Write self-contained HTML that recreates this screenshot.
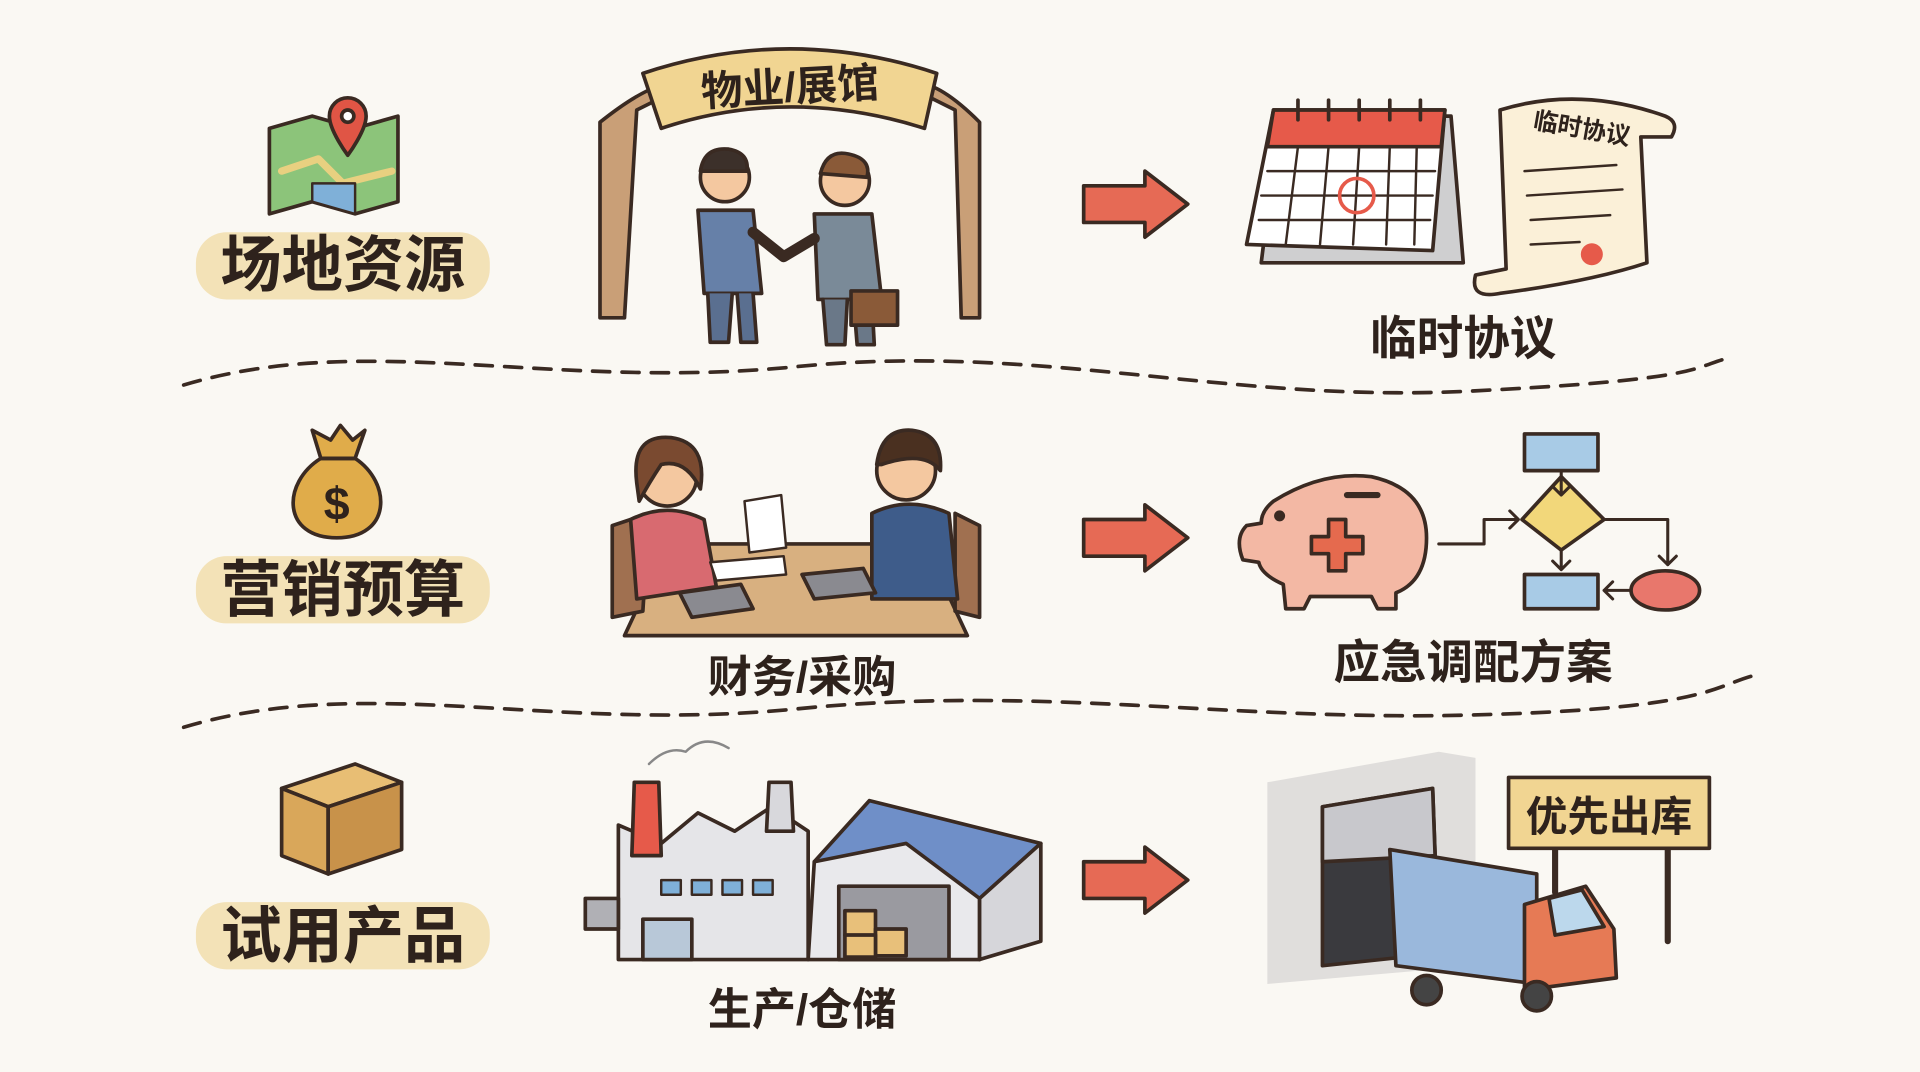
<!DOCTYPE html>
<html><head><meta charset="utf-8"><style>
html,body{margin:0;padding:0;background:#faf8f3;}
svg{display:block}
text{font-family:"Liberation Sans","Noto Sans CJK SC",sans-serif;font-weight:bold;fill:#2e221c}
</style></head><body>
<svg width="1920" height="1072" viewBox="0 0 1568 877" preserveAspectRatio="none" xmlns="http://www.w3.org/2000/svg">
<rect width="1568" height="877" fill="#faf8f3"/>
<g stroke="#3a2a22" stroke-width="3" stroke-linejoin="round" stroke-linecap="round">
<!-- dashed lines -->
<path d="M150 315 C300 270 450 320 650 300 S1000 330 1200 320 S1380 300 1415 292" fill="none" stroke-dasharray="14 10"/>
<path d="M150 595 C300 550 450 600 650 580 S1000 590 1200 585 S1400 560 1435 552" fill="none" stroke-dasharray="14 10"/>

<!-- map -->
<path d="M220 105 L255 95 L290 105 L325 95 L325 165 L290 175 L255 165 L220 175 Z" fill="#8cc47a"/>
<path d="M230 140 L260 130 L280 150 L320 140" fill="none" stroke="#e8d080" stroke-width="6"/>
<path d="M255 150 L255 165 L290 175 L290 150 Z" fill="#7fb0d8" stroke-width="2"/>
<path d="M284 80 a15 15 0 0 1 15 15 c0 12 -15 32 -15 32 s-15 -20 -15 -32 a15 15 0 0 1 15 -15z" fill="#e05545"/>
<circle cx="284" cy="95" r="5" fill="#fff"/>

<!-- money bag -->
<path d="M262 375 C230 395 230 440 275 440 C320 440 320 395 290 375 Z" fill="#e0ac4a"/>
<path d="M262 375 L255 352 L270 360 L278 348 L288 360 L298 352 L290 375 Z" fill="#e0ac4a"/>
<path d="M262 375 L290 375" />

<!-- box -->
<path d="M230 645 L290 625 L328 640 L268 660 Z" fill="#e8be74"/>
<path d="M230 645 L268 660 L268 715 L230 700 Z" fill="#d9a75a"/>
<path d="M268 660 L328 640 L328 695 L268 715 Z" fill="#c8924a"/>

<!-- arch -->
<path d="M490 260 L490 100 Q540 60 560 70 L560 70 L520 90 L510 260 Z" fill="#c99f77"/>
<path d="M800 260 L800 100 Q760 60 740 70 L780 90 L785 260 Z" fill="#c99f77"/>
<path d="M525 60 Q645 20 765 60 L755 105 Q645 70 540 105 Z" fill="#f1d592"/>

<!-- people top -->
<circle cx="592" cy="145" r="20" fill="#f4c8a0"/>
<path d="M572 140 Q575 120 595 122 Q612 125 610 140 Z" fill="#3c302a"/>
<path d="M570 172 L615 172 L622 240 L575 240 Z" fill="#6680a8"/>
<path d="M578 240 L580 280 L595 280 L598 240 M602 240 L605 280 L618 280 L615 240" fill="#5a6f90"/>
<circle cx="690" cy="148" r="20" fill="#f4c8a0"/>
<path d="M670 142 Q675 122 693 126 Q712 130 708 145 Z" fill="#8a5a38"/>
<path d="M665 175 L712 175 L720 245 L668 245 Z" fill="#7a8a98"/>
<path d="M672 245 L675 282 L690 282 L692 245 M697 245 L700 282 L714 282 L712 245" fill="#6a7888"/>
<path d="M615 190 L640 210 L665 195" fill="none" stroke-width="9" stroke="#3a2a22"/>
<rect x="695" y="238" width="38" height="28" fill="#8a5a38"/>

<!-- arrows -->
<path d="M885 152 L935 152 L935 140 L970 167 L935 194 L935 182 L885 182 Z" fill="#e66a55"/>
<path d="M885 425 L935 425 L935 413 L970 440 L935 467 L935 455 L885 455 Z" fill="#e66a55"/>
<path d="M885 705 L935 705 L935 693 L970 720 L935 747 L935 735 L885 735 Z" fill="#e66a55"/>

<!-- calendar -->
<path d="M1045 95 L1185 95 L1195 215 L1030 215 Z" fill="#cfcfd0"/>
<path d="M1040 90 L1180 90 L1170 205 L1018 200 Z" fill="#fff"/>
<path d="M1040 90 L1180 90 L1177 120 L1035 120 Z" fill="#e65a4a"/>
<g fill="none" stroke-width="2">
<path d="M1035 140 L1172 140 M1030 160 L1170 160 M1028 180 L1168 180 M1060 120 L1050 200 M1085 120 L1078 200 M1110 120 L1105 200 M1135 120 L1132 200 M1157 120 L1155 200"/>
</g>
<circle cx="1108" cy="160" r="14" fill="none" stroke="#e65a4a" stroke-width="3"/>
<g fill="none"><path d="M1060 82 v16 M1085 82 v16 M1110 82 v16 M1135 82 v16 M1160 82 v16"/></g>

<!-- scroll -->
<path d="M1225 90 Q1290 70 1360 95 Q1372 100 1365 112 L1340 112 L1345 215 Q1300 230 1225 240 Q1200 245 1205 225 L1230 220 Z" fill="#fbf0d8"/>
<g fill="none" stroke-width="2"><path d="M1245 140 L1320 135 M1247 160 L1325 155 M1250 180 L1315 176 M1250 200 L1290 198"/></g>
<circle cx="1300" cy="208" r="9" fill="#e65a4a" stroke="none"/>

<!-- meeting -->
<path d="M545 445 L755 445 L790 520 L510 520 Z" fill="#d8b080"/>
<path d="M500 430 L530 420 L525 500 L500 505 Z" fill="#a07050"/>
<path d="M780 420 L800 430 L800 505 L780 500 Z" fill="#a07050"/>
<circle cx="545" cy="390" r="24" fill="#f4c8a0"/>
<path d="M520 395 Q515 355 548 358 Q578 362 572 400 Q560 375 540 380 Q530 395 522 410 Z" fill="#7a4a30"/>
<path d="M515 425 Q545 410 575 425 L585 480 L520 490 Z" fill="#d86a70"/>
<path d="M608 410 L638 405 L642 448 L612 452 Z" fill="#fff" stroke-width="2"/>
<path d="M580 460 L640 455 L642 470 L585 475 Z" fill="#fff" stroke-width="2"/>
<path d="M555 485 L605 478 L615 498 L565 505 Z" fill="#8a8a90"/>
<circle cx="740" cy="385" r="24" fill="#f4c8a0"/>
<path d="M716 380 Q720 350 745 352 Q770 355 768 385 Q755 368 720 380 Z" fill="#4a3020"/>
<path d="M712 420 Q742 405 775 420 L782 490 L712 490 Z" fill="#3e5c8a"/>
<path d="M655 470 L705 465 L715 485 L665 490 Z" fill="#8a8a90"/>

<!-- piggy -->
<path d="M1040 410 Q1080 385 1120 390 Q1165 400 1165 440 Q1165 475 1140 485 L1140 498 L1125 498 L1120 488 L1070 488 L1065 498 L1050 498 L1048 478 Q1030 470 1028 460 L1015 458 Q1008 440 1018 430 L1030 428 Q1030 418 1040 410Z" fill="#f3b8a4"/>
<path d="M1100 405 L1125 405" stroke-width="5"/>
<path d="M1085 425 h14 v14 h14 v14 h-14 v14 h-14 v-14 h-14 v-14 h14 z" fill="#e56a4e"/>
<circle cx="1045" cy="422" r="3" fill="#3a2a22"/>
<!-- flowchart -->
<rect x="1245" y="355" width="60" height="30" fill="#a8cbe6"/>
<path d="M1275 390 L1310 425 L1275 450 L1243 425 Z" fill="#f2d77a"/>
<rect x="1245" y="470" width="60" height="28" fill="#a8cbe6"/>
<ellipse cx="1360" cy="483" rx="28" ry="16" fill="#e8776c"/>
<g fill="none" stroke-width="2.5">
<path d="M1275 385 L1275 405 M1268 398 L1275 405 L1282 398"/>
<path d="M1275 450 L1275 466 M1268 459 L1275 466 L1282 459"/>
<path d="M1310 425 L1362 425 L1362 462 M1355 455 L1362 462 L1369 455"/>
<path d="M1332 483 L1310 483 M1317 476 L1310 483 L1317 490"/>
<path d="M1175 445 L1212 445 L1212 425 L1240 425 M1233 418 L1240 425 L1233 432"/>
</g>

<!-- factory -->
<path d="M505 700 L505 675 L540 690 L570 665 L600 680 L630 660 L660 680 L660 785 L505 785 Z" fill="#e5e5e8"/>
<path d="M518 640 L538 640 L540 700 L516 700 Z" fill="#e65a4a"/>
<path d="M628 640 L646 640 L648 680 L626 680 Z" fill="#d8d8dc"/>
<path d="M478 735 L505 735 L505 760 L478 760 Z" fill="#b0b0b5"/>
<g fill="#7fb0d8" stroke-width="2"><rect x="540" y="720" width="16" height="12"/><rect x="565" y="720" width="16" height="12"/><rect x="590" y="720" width="16" height="12"/><rect x="615" y="720" width="16" height="12"/></g>
<rect x="525" y="752" width="40" height="33" fill="#b8c8d8"/>
<path d="M665 705 L710 655 L850 690 L800 735 Z" fill="#6f8fc8"/>
<path d="M665 705 L740 690 L800 735 L800 785 L660 785 Z" fill="#e9e9ec"/>
<path d="M800 735 L850 690 L850 770 L800 785 Z" fill="#d6d6da"/>
<rect x="685" y="725" width="90" height="60" fill="#9a9aa0"/>
<rect x="690" y="745" width="25" height="20" fill="#e8c07a"/><rect x="715" y="760" width="25" height="22" fill="#e8c07a"/><rect x="690" y="765" width="25" height="18" fill="#e8c07a"/>
<path d="M530 625 Q545 610 560 615 Q575 600 595 612" fill="none" stroke="#888" stroke-width="2"/>

<!-- warehouse/truck -->
<path d="M1035 640 L1175 615 L1205 620 L1205 790 L1035 805 Z" fill="#e0dedc" stroke="none"/>
<path d="M1080 660 L1170 645 L1175 780 L1080 790 Z" fill="#3a3a3e"/>
<path d="M1080 660 L1170 645 L1172 700 L1080 705 Z" fill="#c8c8cc"/>
<path d="M1135 695 L1255 715 L1255 805 L1140 790 Z" fill="#9ab8dc"/>
<path d="M1245 740 L1295 725 L1318 760 L1320 800 L1245 810 Z" fill="#e67a55"/>
<path d="M1265 735 L1292 728 L1310 758 L1270 765 Z" fill="#bcd8ec"/>
<circle cx="1165" cy="810" r="12" fill="#444"/>
<circle cx="1255" cy="815" r="12" fill="#444"/>
<path d="M1270 690 L1270 730 M1362 690 L1362 770" stroke-width="5" fill="none"/>
<rect x="1232" y="636" width="164" height="58" fill="#f1d592"/>
</g>

<!-- label highlights -->
<g fill="#f1dca8" opacity="0.8">
<rect x="160" y="190" width="240" height="55" rx="25"/>
<rect x="160" y="455" width="240" height="55" rx="25"/>
<rect x="160" y="738" width="240" height="55" rx="25"/>
</g>
<text x="280" y="234" font-size="50" text-anchor="middle">场地资源</text>
<text x="280" y="500" font-size="50" text-anchor="middle">营销预算</text>
<text x="280" y="783" font-size="50" text-anchor="middle">试用产品</text>
<text x="645" y="83" font-size="34" text-anchor="middle" transform="rotate(-3 645 70)">物业/展馆</text>
<text x="275" y="425" font-size="38" text-anchor="middle" fill="#3a2a22">$</text>
<text x="1195" y="290" font-size="38" text-anchor="middle">临时协议</text>
<text x="1292" y="112" font-size="20" text-anchor="middle" transform="rotate(10 1292 105)">临时协议</text>
<text x="655" y="566" font-size="36" text-anchor="middle">财务/采购</text>
<text x="1203" y="555" font-size="38" text-anchor="middle">应急调配方案</text>
<text x="655" y="838" font-size="36" text-anchor="middle">生产/仓储</text>
<text x="1314" y="680" font-size="34" text-anchor="middle">优先出库</text>
</svg>
</body></html>
